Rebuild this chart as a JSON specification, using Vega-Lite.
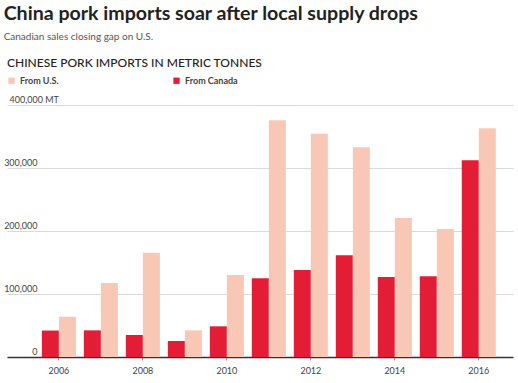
{
  "$schema": "https://vega.github.io/schema/vega-lite/v6.json",
  "padding": {"left": 3, "top": 4, "right": 9, "bottom": 4},
  "width": 506,
  "height": 252,
  "title": {
    "text": "China pork imports soar after local supply drops",
    "subtitle": "Canadian sales closing gap on U.S.",
    "anchor": "start",
    "font": "Lato",
    "fontSize": 19.6,
    "fontWeight": "bold",
    "color": "#222222",
    "subtitleFont": "Lato",
    "subtitleFontSize": 10,
    "subtitleColor": "#555555",
    "subtitlePadding": 7,
    "offset": 15
  },
  "config": {"view": {"stroke": null}, "font": "Lato"},
  "data": {
    "values": [
      {"year": 2006, "source": "From Canada", "tonnes": 42000},
      {"year": 2006, "source": "From U.S.", "tonnes": 64000},
      {"year": 2007, "source": "From Canada", "tonnes": 42300},
      {"year": 2007, "source": "From U.S.", "tonnes": 117500},
      {"year": 2008, "source": "From Canada", "tonnes": 35000},
      {"year": 2008, "source": "From U.S.", "tonnes": 165600},
      {"year": 2009, "source": "From Canada", "tonnes": 25400},
      {"year": 2009, "source": "From U.S.", "tonnes": 42300},
      {"year": 2010, "source": "From Canada", "tonnes": 48700},
      {"year": 2010, "source": "From U.S.", "tonnes": 130000},
      {"year": 2011, "source": "From Canada", "tonnes": 124900},
      {"year": 2011, "source": "From U.S.", "tonnes": 375700},
      {"year": 2012, "source": "From Canada", "tonnes": 138000},
      {"year": 2012, "source": "From U.S.", "tonnes": 354500},
      {"year": 2013, "source": "From Canada", "tonnes": 161400},
      {"year": 2013, "source": "From U.S.", "tonnes": 332800},
      {"year": 2014, "source": "From Canada", "tonnes": 127000},
      {"year": 2014, "source": "From U.S.", "tonnes": 220600},
      {"year": 2015, "source": "From Canada", "tonnes": 128000},
      {"year": 2015, "source": "From U.S.", "tonnes": 203200},
      {"year": 2016, "source": "From Canada", "tonnes": 312200},
      {"year": 2016, "source": "From U.S.", "tonnes": 363000}
    ]
  },
  "mark": {"type": "bar"},
  "encoding": {
    "x": {
      "field": "year",
      "type": "ordinal",
      "scale": {"paddingInner": 0.19, "paddingOuter": 0.62, "align": 0.67},
      "axis": {
        "values": [2006, 2008, 2010, 2012, 2014, 2016],
        "title": null,
        "labelAngle": 0,
        "domainColor": "#333333",
        "domainWidth": 1.5,
        "tickColor": "#999999",
        "tickSize": 3,
        "labelFontSize": 9,
        "labelColor": "#444444",
        "labelPadding": 6
      }
    },
    "xOffset": {
      "field": "source",
      "type": "nominal",
      "scale": {"domain": ["From Canada", "From U.S."], "paddingInner": 0, "paddingOuter": 0}
    },
    "y": {
      "field": "tonnes",
      "type": "quantitative",
      "scale": {"domain": [0, 400000]},
      "axis": {
        "title": null,
        "values": [0, 100000, 200000, 300000, 400000],
        "grid": true,
        "gridColor": "#d9d9d9",
        "domain": false,
        "ticks": false,
        "tickSize": 0,
        "labelExpr": "datum.value == 400000 ? '400,000  MT' : format(datum.value, ',')",
        "labelAlign": {"condition": {"test": "datum.value == 400000", "value": "left"}, "value": "right"},
        "labelPadding": {"condition": {"test": "datum.value == 400000", "value": -2}, "value": -30},
        "labelBaseline": "alphabetic",
        "labelOffset": -3,
        "labelFontSize": 9,
        "labelColor": "#444444"
      }
    },
    "color": {
      "field": "source",
      "type": "nominal",
      "scale": {"domain": ["From U.S.", "From Canada"], "range": ["#F9C7B6", "#E31D36"]},
      "legend": {
        "orient": "top",
        "direction": "horizontal",
        "title": "CHINESE PORK IMPORTS IN METRIC TONNES",
        "titleOrient": "top",
        "titleFont": "Lato",
        "titleFontSize": 12,
        "titleFontWeight": 500,
        "titleColor": "#222222",
        "titlePadding": 6,
        "titleLimit": 500,
        "symbolType": "square",
        "symbolSize": 40,
        "symbolOpacity": 1,
        "labelFontSize": 9,
        "labelFontWeight": "bold",
        "labelColor": "#444444",
        "columnPadding": 113,
        "offset": 19
      }
    }
  }
}
